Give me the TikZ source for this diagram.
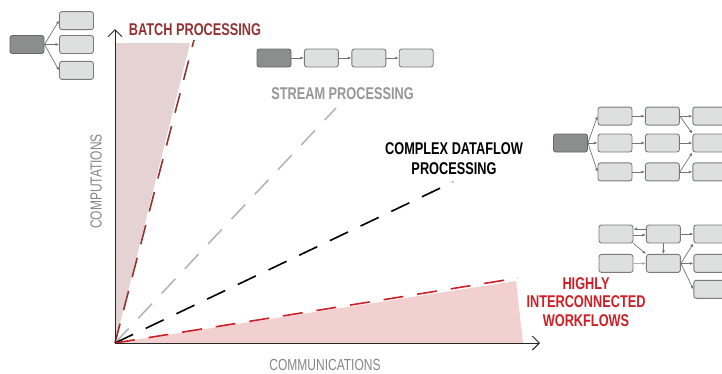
\documentclass[tikz,border=0pt]{standalone}
\usepackage{fontspec}
\usepackage{tikz}
\usetikzlibrary{arrows.meta,positioning}

\newfontfamily\condfont[FakeStretch=0.75]{Liberation Sans}

\definecolor{batchred}{HTML}{923232}
\definecolor{batchfill}{HTML}{E5D3D3}
\definecolor{linkred}{HTML}{CC1F26}
\definecolor{linkfill}{HTML}{F3D0D0}
\definecolor{streamgray}{HTML}{B5B5B5}
\definecolor{labelgray}{HTML}{969696}
\definecolor{axisgray}{HTML}{858585}
\definecolor{boxfill}{HTML}{DEDFDF}
\definecolor{boxline}{HTML}{7A7A7A}
\definecolor{srcfill}{HTML}{8C8E8E}

\begin{document}
\begin{tikzpicture}[
            x=1pt, y=-1pt,
            font=\condfont,
            node distance=12.5pt,
            task/.style={draw=boxline, fill=boxfill, rounded corners=2.5pt, line width=0.9pt,
            minimum width=34pt, minimum height=18pt, inner sep=0pt},
            src/.style={task, fill=srcfill, draw=black!60},
            link/.style={-{Latex[length=3.5pt,width=3pt]}, draw=black!55, line width=0.7pt},
            trend/.style={line width=1.6pt, dash pattern=on 20pt off 14pt},
            axis/.style={line width=1pt, draw=black!85, -{Straight Barb[length=7pt,width=14pt]}},
            title/.style={font=\condfont\bfseries\fontsize{17}{20}\selectfont, align=center, inner sep=0pt},
            axlbl/.style={font=\condfont\fontsize{16}{18}\selectfont, text=axisgray, inner sep=0pt}
        ]
            \clip (0,0) rectangle (722,373);

% --- chart: shaded zones, trend lines, axes ---
            \coordinate (o)         at (115,343);
            \coordinate (yend)      at (115,29);
            \coordinate (xend)      at (540,343);
            \coordinate (batchend)  at (194,40);
            \coordinate (streamend) at (336,108);
            \coordinate (flowend)   at (453,182);
            \coordinate (linkend)   at (518,278);

            \fill[batchfill] (o) -- (115,43) -- (190,43) -- cycle;
            \fill[linkfill]  (o) -- (516,281) -- (523,343) -- cycle;

            \draw[trend, batchred]   (o) -- (batchend);
            \draw[trend, streamgray] (o) -- (streamend);
            \draw[trend, black]      (o) -- (flowend);
            \draw[trend, linkred]    (o) -- (linkend);

            \draw[axis] (o) -- (yend);
            \draw[axis] (o) -- (xend);

% --- labels ---
            \node[title, text=batchred]  (batch)  at (195,29.5) {BATCH PROCESSING};
            \node[title, text=labelgray] (stream) at (342.5,94) {STREAM PROCESSING};
            \node[title]                 (flow)   at (454,159)  {COMPLEX DATAFLOW\\PROCESSING};
            \node[title, text=linkred, font=\condfont\bfseries\fontsize{17}{18.5}\selectfont]
                                         (links)  at (586,302)  {HIGHLY\\INTERCONNECTED\\WORKFLOWS};
            \node[axlbl, rotate=90]      (comp)   at (96,181.5) {COMPUTATIONS};
            \node[axlbl]                 (comm)   at (325,364.5) {COMMUNICATIONS};

% --- batch: one source, three tasks ---
            \node[src]                      (fan0) at (27,44.5) {};
            \node[task]                     (fan2) at (76.5,44.5) {};
            \node[task, above=5pt of fan2]  (fan1) {};
            \node[task, below=7pt of fan2]  (fan3) {};
            \foreach \t in {fan1,fan2,fan3}
                \draw[link] (fan0.east) -- (\t.west);

% --- stream: linear chain ---
            \node[src]                 (s0) at (274,58) {};
            \node[task, right=of s0]   (s1) {};
            \node[task, right=of s1]   (s2) {};
            \node[task, right=of s2]   (s3) {};
            \draw[link] (s0) -- (s1);
            \draw[link] (s1) -- (s2);
            \draw[link] (s2) -- (s3);

% --- dataflow: three parallel lanes that merge ---
            \node[src]                     (d0)  at (570.5,143) {};
            \node[task]                    (d12) at (615,143) {};
            \node[task, above=8pt of d12]  (d11) {};
            \node[task, below=10pt of d12] (d13) {};
            \node[task, right=of d11]      (d21) {};
            \node[task, right=of d12]      (d22) {};
            \node[task, right=of d13]      (d23) {};
            \node[task, right=of d21]      (d31) {};
            \node[task, right=of d22]      (d32) {};
            \node[task, right=of d23]      (d33) {};
            \foreach \t in {d11,d12,d13}
                \draw[link] (d0.east) -- (\t.west);
            \draw[link] (d11) -- (d21);
            \draw[link] (d12) -- (d22);
            \draw[link] (d13) -- (d23);
            \draw[link] (d21) -- (d31);
            \draw[link] (d21.east) -- (d32.north west);
            \draw[link] (d22) -- (d32);
            \draw[link] (d23.east) -- (d32.south west);
            \draw[link] (d23) -- (d33);

% --- interconnected workflow ---
            \node[task]                   (w1) at (616,234) {};
            \node[task, right=of w1]      (w2) {};
            \node[task, right=of w2]      (w3) {};
            \node[task, below=10.5pt of w1] (w4) {};
            \node[task, right=of w4]      (w5) {};
            \node[task, right=of w5]      (w6) {};
            \node[task, below=7pt of w6]  (w7) {};
            \draw[link] ([yshift=5pt]w2.west) -- ([yshift=5pt]w1.east);
            \draw[link] ([yshift=-1pt]w1.east) -- ([yshift=-1pt]w2.west);
            \draw[link] (w1.south east) -- (w5.north west);
            \draw[link] (w2) -- (w5);
            \draw[link] (w2) -- (w3);
            \draw[link, draw=black!30] (w4) -- (w5);
            \draw[link] (w5.east) -- (w3.south west);
            \draw[link] (w5) -- (w6);
            \draw[link] (w5.east) -- (w7.west);
        \end{tikzpicture}
\end{document}
